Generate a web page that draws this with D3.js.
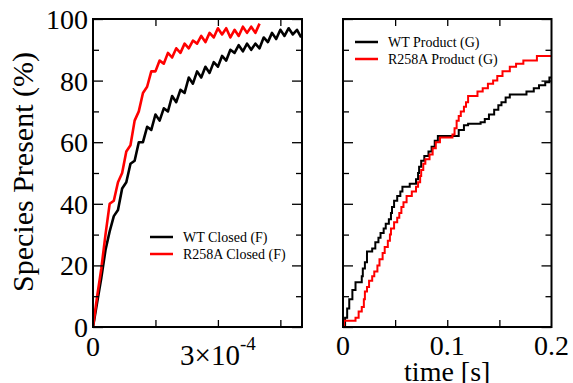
<!DOCTYPE html>
<html>
<head>
<meta charset="utf-8">
<script src="https://cdn.jsdelivr.net/npm/d3@7"></script>
</head>
<body style="margin:0">
<script>
// left panel: closed state, time in units of 1e-4 s
var closedTime = [0,0.1,0.2,0.3,0.4,0.5,0.6,0.7,0.8,0.9,1.0,1.1,1.2,1.3,1.4,1.5,1.6,1.7,1.8,1.9,2.0,
  2.1,2.2,2.3,2.4,2.5,2.6,2.7,2.8,2.9,3.0,3.1,3.2,3.3,3.4,3.5,3.6,3.7,3.8,3.9,4.0,
  4.1,4.2,4.3,4.4,4.5,4.6,4.7,4.8,4.9,5.0];
var wtClosed = [0,8,16,25,31,36,38,45,47,53,54,60,60,65,64,69,67,71,70,75,73,
  77,76,81,79,83,81,84.5,82.5,86,84.5,88,86.5,90,89,91.5,89.5,92,90,92,90.5,
  94,92.5,95.5,93.5,96.5,94.5,97,95,96.5,94];
var r258aClosed = [0,10,19,30,40,41,47,50,57,59,67,70,76,78,83,83,86.5,85.5,89,87.5,90.5,
  89,92,90.5,93,92,94.5,92.5,95.5,94,97,95,97,94,96.5,94.5,97.5,95.5,97.5,95.5,98.5];

// right panel: product, [time (s), percent] step points
var wtProduct = [[0,0],[0.002,3],[0.004,6],[0.006,9],[0.009,12],[0.012,14.5],[0.018,16.5],[0.019,19],
  [0.021,21],[0.023,24.5],[0.028,25.5],[0.031,27.5],[0.034,29],[0.036,30.5],[0.039,32],[0.041,33.5],
  [0.044,35],[0.046,37],[0.047,39],[0.049,41],[0.052,42.5],[0.055,44],[0.057,45.5],[0.064,46.5],
  [0.07,48],[0.072,50],[0.073,52],[0.075,54],[0.078,55.5],[0.082,57],[0.085,58.5],[0.088,60.5],
  [0.091,62],[0.111,64],[0.116,65.5],[0.12,66],[0.132,66.5],[0.136,67.5],[0.14,69],[0.145,70.5],
  [0.149,72],[0.152,73],[0.156,74.5],[0.16,75.5],[0.176,76.5],[0.183,77.5],[0.188,78.5],[0.194,79.5],
  [0.198,81],[0.2,81]];
var r258aProduct = [[0,0],[0.001,2],[0.012,3],[0.015,5],[0.018,6.5],[0.02,9],[0.021,11.5],[0.023,13],
  [0.025,15],[0.028,16.5],[0.03,18],[0.033,20],[0.035,22],[0.038,24],[0.04,26],[0.043,28],[0.045,30],
  [0.046,32],[0.049,34],[0.052,35.5],[0.054,37],[0.056,39],[0.058,40.5],[0.061,42.5],[0.066,44],
  [0.07,45.5],[0.072,47],[0.074,49],[0.075,51],[0.077,53],[0.079,54.5],[0.083,56],[0.086,58],
  [0.089,60],[0.093,61.5],[0.105,62.5],[0.107,64.5],[0.109,67],[0.111,68.5],[0.113,70],[0.116,71.5],
  [0.118,73],[0.12,75],[0.129,76.5],[0.134,77.5],[0.139,79],[0.144,80],[0.148,81.5],[0.153,83],
  [0.16,84.5],[0.166,85.5],[0.173,86.5],[0.186,88],[0.2,88]];

var yTicks = [0,20,40,60,80,100];
var yMinor = [10,30,50,70,90];
var FONT = "Liberation Serif";

var svg = d3.select("body").append("svg")
  .attr("width", 573).attr("height", 383)
  .attr("font-family", FONT);

var y = d3.scaleLinear().domain([0,100]).range([327,19]);
var xL = d3.scaleLinear().domain([0,5.02]).range([93,302]);
var xR = d3.scaleLinear().domain([0,0.2]).range([343,551.5]);

svg.append("defs").selectAll("clipPath")
  .data([["clipL",xL],["clipR",xR]]).enter().append("clipPath")
    .attr("id", function(d) { return d[0]; })
  .append("rect")
    .attr("x", function(d) { return d[1].range()[0]; })
    .attr("y", 19)
    .attr("width", function(d) { return d[1].range()[1] - d[1].range()[0]; })
    .attr("height", 308);

// frame with inward ticks on all four sides, no axis-generated labels
function frame(x, majX, minX) {
  var g = svg.append("g");
  g.append("g").attr("transform", "translate(" + x.range()[0] + ",0)")
    .call(d3.axisLeft(y).tickValues(yTicks).tickSize(-10).tickFormat(""));
  g.append("g").attr("transform", "translate(" + x.range()[0] + ",0)")
    .call(d3.axisLeft(y).tickValues(yMinor).tickSize(-6).tickFormat(""));
  g.append("g").attr("transform", "translate(" + x.range()[1] + ",0)")
    .call(d3.axisRight(y).tickValues(yTicks).tickSize(-10).tickFormat(""));
  g.append("g").attr("transform", "translate(" + x.range()[1] + ",0)")
    .call(d3.axisRight(y).tickValues(yMinor).tickSize(-6).tickFormat(""));
  g.append("g").attr("transform", "translate(0,327)")
    .call(d3.axisBottom(x).tickValues(majX.concat(minX)).tickSize(-7).tickFormat(""));
  g.append("g").attr("transform", "translate(0,19)")
    .call(d3.axisTop(x).tickValues(majX.concat(minX)).tickSize(-7).tickFormat(""));
  g.selectAll(".domain").remove();
  g.selectAll("text").remove();
  g.selectAll("line").attr("stroke", "#000").attr("stroke-width", 1.3);
  g.append("rect")
    .attr("x", x.range()[0]).attr("y", 19)
    .attr("width", x.range()[1] - x.range()[0]).attr("height", 308)
    .attr("fill", "none").attr("stroke", "#000").attr("stroke-width", 2);
}

function label(x, yy, size, anchor, txt) {
  return svg.append("text").attr("x", x).attr("y", yy)
    .attr("font-family", FONT).attr("font-size", size)
    .attr("text-anchor", anchor).attr("fill", "#000").text(txt);
}

// left panel
var lineL = d3.line().x(function(d) { return xL(d[0]); }).y(function(d) { return y(d[1]); });
svg.append("g").attr("clip-path", "url(#clipL)").selectAll("path")
  .data([[wtClosed,"#000"],[r258aClosed,"#f00"]]).enter().append("path")
    .attr("fill", "none")
    .attr("stroke", function(d) { return d[1]; })
    .attr("stroke-width", 2.6)
    .attr("stroke-linejoin", "round")
    .attr("d", function(d) { return lineL(d[0].map(function(v, i) { return [closedTime[i], v]; })); });
frame(xL, [3], [1.5,4.5]);

// right panel
var lineR = d3.line().curve(d3.curveStepAfter)
  .x(function(d) { return xR(d[0]); }).y(function(d) { return y(d[1]); });
svg.append("g").attr("clip-path", "url(#clipR)").selectAll("path")
  .data([[wtProduct,"#000"],[r258aProduct,"#f00"]]).enter().append("path")
    .attr("fill", "none")
    .attr("stroke", function(d) { return d[1]; })
    .attr("stroke-width", 2)
    .attr("d", function(d) { return lineR(d[0]); });
frame(xR, [0.1], [0.05,0.15]);

// y tick labels
yTicks.forEach(function(v) { label(88, y(v) + 10, 28, "end", String(v)); });

// x tick labels
label(xL(0), 356, 28, "middle", "0");
var sci = label(xL(3), 365, 29, "middle", null);
sci.append("tspan").text("3\u00d710");
sci.append("tspan").attr("font-size", 19).attr("dy", -15).text("-4");
[0, 0.1, 0.2].forEach(function(v) {
  label(xR(v), 355, 28, "middle", v === 0 ? "0" : d3.format(".1f")(v));
});

// axis titles
label(0, 0, 30, "middle", "Species Present (%)")
  .attr("transform", "translate(33,172) rotate(-90)");
label(xR(0.1), 381, 28, "middle", "time [s]");

// legends
function legend(x0, y0, names) {
  names.forEach(function(n, i) {
    svg.append("line").attr("x1", x0).attr("x2", x0 + 23)
      .attr("y1", y0 + i * 17).attr("y2", y0 + i * 17)
      .attr("stroke", n[1]).attr("stroke-width", 2.5);
    label(x0 + 33, y0 + i * 17 + 5, 14, "start", n[0]);
  });
}
legend(150, 237, [["WT Closed (F)","#000"],["R258A Closed (F)","#f00"]]);
legend(355, 42, [["WT Product (G)","#000"],["R258A Product (G)","#f00"]]);
</script>
</body>
</html>
